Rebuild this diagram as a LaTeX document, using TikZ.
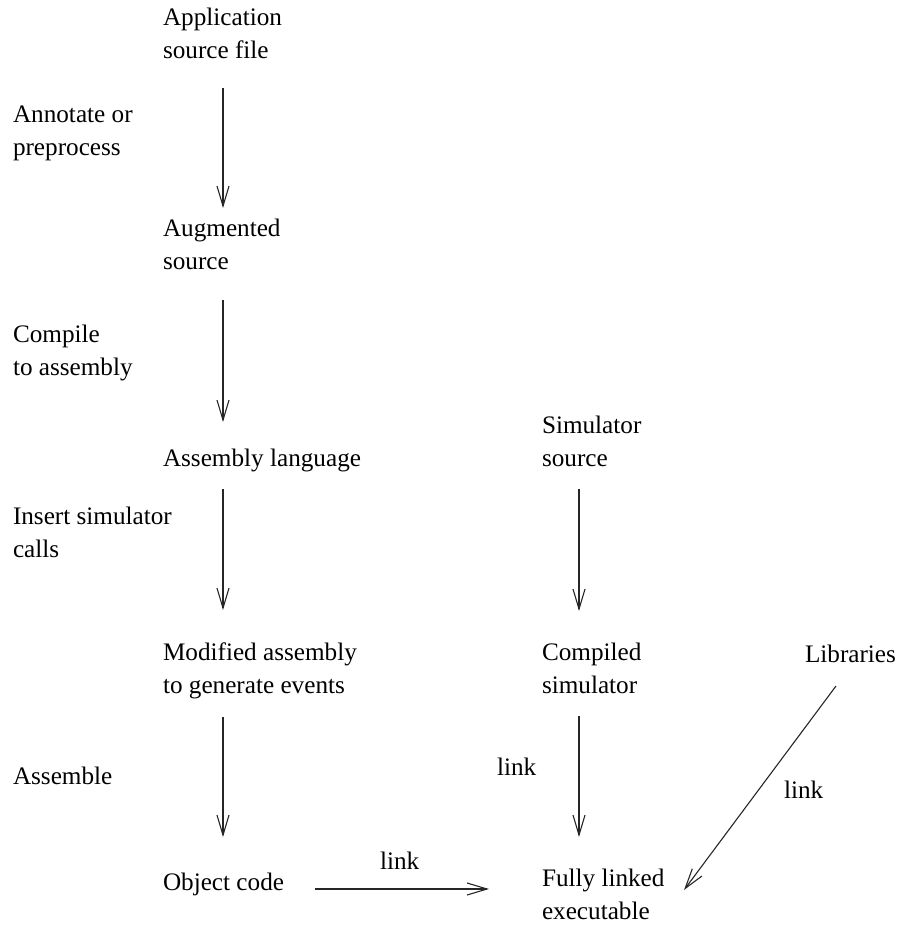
\documentclass[tikz,border=0pt]{standalone}
\usepackage{fontspec}
\setmainfont{Liberation Serif}
\usetikzlibrary{arrows.meta}
\begin{document}
\begin{tikzpicture}[x=1pt,y=-1pt,
  lbl/.style={anchor=north west,inner sep=0pt,outer sep=0pt,align=left,
    font=\fontsize{25.2}{33}\selectfont,
    execute at begin node={\rule{0pt}{20pt}}},
  arr/.style={line width=1.1pt,draw=black!85,
    -{Straight Barb[length=20pt,width=12pt,line width=1.1pt]}}]
\useasboundingbox (0,0) rectangle (897,926);

% main flow
\node[lbl] (app)    at (163,8)   {Application\\source file};
\node[lbl] (aug)    at (163,219) {Augmented\\source};
\node[lbl] (asm)    at (163,446) {Assembly language};
\node[lbl] (mod)    at (163,643) {Modified assembly\\to generate events};
\node[lbl] (obj)    at (163,870) {Object code};

% simulator branch
\node[lbl] (simsrc) at (542,416) {Simulator\\source};
\node[lbl] (csim)   at (542,643) {Compiled\\simulator};
\node[lbl] (full)   at (542,869) {Fully linked\\executable};
\node[lbl] (libs)   at (805,642) {Libraries};

% step descriptions
\node[lbl] (annot)  at (13,106) {Annotate or\\preprocess};
\node[lbl] (comp)   at (13,325) {Compile\\to assembly};
\node[lbl] (ins)    at (13,507) {Insert simulator\\calls};
\node[lbl] (asmb)   at (13,764) {Assemble};
\node[lbl] (lnka)   at (497,755) {link};
\node[lbl] (lnkb)   at (784,778) {link};
\node[lbl] (lnkc)   at (380,849) {link};

% connectors
\draw[arr] ([shift={(60,80)}]app.north west)  -- ([shift={(60,-11)}]aug.north west);
\draw[arr] ([shift={(60,81)}]aug.north west)  -- ([shift={(60,-24)}]asm.north west);
\draw[arr] ([shift={(60,43)}]asm.north west)  -- ([shift={(60,-33)}]mod.north west);
\draw[arr] ([shift={(60,74)}]mod.north west)  -- ([shift={(60,-33)}]obj.north west);
\draw[arr] ([shift={(37,73)}]simsrc.north west) -- ([shift={(37,-32)}]csim.north west);
\draw[arr] ([shift={(37,73)}]csim.north west) -- ([shift={(37,-32)}]full.north west);
\draw[arr] ([shift={(31,44)}]libs.north west) -- ([shift={(142,21)}]full.north west);
\draw[arr] ([shift={(152,19)}]obj.north west) -- ([shift={(-53,20)}]full.north west);
\end{tikzpicture}
\end{document}
